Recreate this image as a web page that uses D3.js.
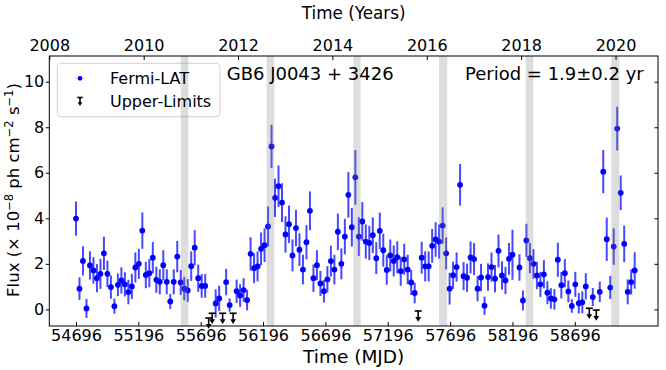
<!DOCTYPE html>
<html><head><meta charset="utf-8">
<script src="https://cdn.jsdelivr.net/npm/d3@7"></script>
<style>body{margin:0;background:#fff}svg{display:block}text{font-family:"DejaVu Sans",sans-serif}</style>
</head><body><svg id="c" width="666" height="370"></svg>
<script>
// ---- data ----
const detMJD=[54696,54724,54752,54780,54808,54836,54864,54892,54920,54948,54976,55004,55032,55060,55088,55116,55144,55172,55200,55228,55256,55284,55312,55340,55368,55396,55424,55452,55480,55508,55536,55564,55592,55620,55648,55676,55704,55732,
55816,55844,55900,55928,55984,56012,56040,56068,56096,56124,56152,56180,56208,56236,56264,56292,56320,56348,56376,56404,56432,56460,56488,56516,56544,56572,56600,56628,56656,56684,56712,56740,56768,56796,56824,56852,56880,56908,56936,56964,56992,57020,57048,57076,57104,57132,57160,57188,57216,57244,57272,57300,57328,57356,57384,57412,
57468,57496,57524,57552,57580,57608,57636,57664,57692,57720,57748,57776,57804,57832,57860,57888,57916,57944,57972,58000,58028,58056,58084,58112,58140,58168,58196,
58252,58280,58308,58336,58364,58392,58420,58448,58476,58504,58532,58560,58588,58616,58644,58672,58700,58728,58756,58784,58840,58896,58924,58952,58980,59008,59036,59064,59092,59120,59148,59176];
const detFlux=[3.99,0.91,2.13,0.04,1.93,1.71,1.37,1.56,2.46,1.56,0.98,0.14,1.08,1.27,1.10,0.76,1.01,1.84,2.00,3.46,1.51,1.59,2.27,1.30,1.21,1.94,1.21,0.35,1.21,2.32,1.18,0.91,0.83,1.90,2.71,1.37,1.03,1.03,
0.26,0.48,1.20,0.19,0.80,0.61,0.85,0.41,2.44,1.81,1.89,2.66,2.82,3.64,7.16,4.90,5.41,4.69,3.29,3.74,2.37,3.57,2.62,1.75,2.95,4.33,1.37,1.94,1.14,0.80,1.32,2.12,1.75,3.41,2.00,3.20,5.03,3.61,5.80,3.20,3.86,2.98,2.92,3.26,2.25,3.45,2.60,1.73,2.37,2.13,2.29,1.68,2.20,1.75,1.18,0.72,
2.27,1.89,1.89,2.79,3.07,2.98,3.68,2.46,0.91,1.50,1.86,5.47,1.46,1.39,2.28,2.21,0.91,1.40,0.16,1.42,1.86,1.35,2.57,1.49,1.27,2.22,2.40,
1.84,0.39,3.03,2.25,2.00,1.49,1.10,1.54,0.73,0.48,0.44,2.18,1.06,1.59,0.79,0.15,1.10,0.27,0.31,1.01,0.54,0.77,6.05,3.08,0.96,2.76,7.94,5.12,2.88,0.77,1.20,1.71];
const detErr=[0.75,0.50,0.64,0.42,0.62,0.58,0.62,0.66,0.73,0.58,0.51,0.33,0.50,0.58,0.53,0.54,0.55,0.66,0.66,0.80,0.58,0.62,0.69,0.57,0.55,0.66,0.55,0.33,0.55,0.69,0.55,0.51,0.50,0.65,0.77,0.60,0.52,0.52,
0.62,0.56,0.58,0.29,0.51,0.50,0.52,0.45,0.73,0.66,0.66,0.72,0.74,0.88,0.95,0.84,0.91,0.85,0.80,0.82,0.70,0.80,0.72,0.65,0.75,0.85,0.60,0.66,0.55,0.50,0.58,0.68,0.65,0.80,0.68,0.78,1.00,0.85,1.20,0.85,0.85,0.75,0.75,0.78,0.70,0.80,0.72,0.65,0.70,0.68,0.70,0.64,0.68,0.65,0.55,0.45,
0.70,0.66,0.66,0.74,0.76,0.75,0.80,0.70,0.70,0.60,0.64,0.91,0.62,0.62,0.70,0.70,0.55,0.60,0.40,0.60,0.64,0.60,0.72,0.62,0.60,0.70,1.10,
0.58,0.44,0.73,0.66,0.65,0.60,0.55,0.62,0.50,0.45,0.45,0.75,0.58,0.62,0.48,0.30,0.55,0.45,0.48,0.58,0.40,0.45,0.95,0.95,0.50,0.80,0.96,0.76,0.80,0.55,0.55,0.80];
const ulMJD=[55760,55788,55872,55956,57440,58812,58868];
const ulFlux=[-0.38,-0.17,-0.17,-0.17,-0.07,0.05,-0.03];
const bandStart=[55536,56225,56920,57607,58302,58989];
const bandEnd=[55597,56286,56979,57673,58363,59053];
const mjdTicks=[54696,55196,55696,56196,56696,57196,57696,58196,58696];
const yearTicks=[2008,2010,2012,2014,2016,2018,2020];
const fluxTicks=[0,2,4,6,8,10];

// ---- layout ----
const L=49.3,R=658,T=56,B=326;
const x=d3.scaleLinear().domain([54482,59363]).range([L,R]);
const y=d3.scaleLinear().domain([-0.73,11.13]).range([B,T]);
const xY=d3.scaleLinear().domain([2008,2020.9]).range([L,R]);
const svg=d3.select('#c');
const FF='"DejaVu Sans",sans-serif';

// data: error bars + points
const det=detMJD.map((m,i)=>({m,f:detFlux[i],e:detErr[i]}));
const gD=svg.append('g');
gD.selectAll('line.eb').data(det).join('line').attr('class','eb')
  .attr('x1',d=>x(d.m)).attr('x2',d=>x(d.m))
  .attr('y1',d=>y(d.f-d.e)).attr('y2',d=>y(d.f+d.e))
  .attr('stroke','#0000ff').attr('stroke-opacity',0.72).attr('stroke-width',2);
gD.selectAll('circle').data(det).join('circle')
  .attr('cx',d=>x(d.m)).attr('cy',d=>y(d.f)).attr('r',2.9).attr('fill','#0000ff');

// upper limits
function ulMarker(g,s){
  g.append('line').attr('x1',-3.5*s).attr('x2',3.5*s).attr('y1',0).attr('y2',0).attr('stroke','#000').attr('stroke-width',1.6);
  g.append('line').attr('x1',0).attr('x2',0).attr('y1',0).attr('y2',7*s).attr('stroke','#000').attr('stroke-width',1.6);
  g.append('path').attr('d',`M${-2.9*s},${6*s}L${2.9*s},${6*s}L0,${10.8*s}Z`).attr('fill','#000');
}
ulMJD.forEach((m,i)=>{
  const g=svg.append('g').attr('transform',`translate(${x(m)},${y(ulFlux[i])})`);
  ulMarker(g,1);
});

// legend frame
svg.append('rect').attr('x',57.3).attr('y',63.3).attr('width',162.7).attr('height',53.4).attr('rx',4)
  .attr('fill','#fff').attr('fill-opacity',0.8).attr('stroke','#d0d0d0').attr('stroke-width',1);

// shaded bands
svg.append('g').selectAll('rect').data(bandStart.map((s,i)=>[s,bandEnd[i]])).join('rect')
  .attr('x',d=>x(d[0])).attr('width',d=>x(d[1])-x(d[0])).attr('y',T).attr('height',B-T)
  .attr('fill','#808080').attr('fill-opacity',0.27);

// legend contents
svg.append('circle').attr('cx',80).attr('cy',78.3).attr('r',2.4).attr('fill','#0000ff');
ulMarker(svg.append('g').attr('transform','translate(80,97.5)'),0.78);
svg.append('text').attr('x',110).attr('y',83.5).attr('font-size',16).text('Fermi-LAT');
svg.append('text').attr('x',110).attr('y',106.5).attr('font-size',16).text('Upper-Limits');

// annotations
svg.append('text').attr('x',226.7).attr('y',80).attr('font-size',18).text('GB6 J0043 + 3426');
svg.append('text').attr('x',465).attr('y',80).attr('font-size',18).text('Period = 1.9\u00b10.2 yr');

// axes
function style(g){g.select('.domain').remove();g.selectAll('text').attr('font-size',16).attr('font-family',FF).attr('fill','#000');g.selectAll('line').attr('stroke','#000').attr('stroke-width',1);}
svg.append('g').attr('transform',`translate(0,${B})`)
  .call(d3.axisBottom(x).tickValues(mjdTicks).tickFormat(d3.format('d')).tickSizeInner(-4).tickSizeOuter(0).tickPadding(3.5)).call(style);
svg.append('g').attr('transform',`translate(${L},0)`)
  .call(d3.axisLeft(y).tickValues(fluxTicks).tickFormat(d3.format('d')).tickSizeInner(3.5).tickSizeOuter(0).tickPadding(1.5)).call(style);
svg.append('g').attr('transform',`translate(${R},0)`)
  .call(d3.axisRight(y).tickValues(fluxTicks).tickFormat('').tickSizeInner(-3.5).tickSizeOuter(0)).call(style);
svg.append('g').attr('transform',`translate(0,${T})`)
  .call(d3.axisTop(xY).tickValues(yearTicks).tickFormat(d3.format('d')).tickSizeInner(-4).tickSizeOuter(0).tickPadding(5)).call(style);
svg.append('rect').attr('x',L).attr('y',T).attr('width',R-L).attr('height',B-T).attr('fill','none').attr('stroke','#000').attr('stroke-width',1);

// axis labels
svg.append('text').attr('x',(L+R)/2).attr('y',363).attr('text-anchor','middle').attr('font-size',18.5).text('Time (MJD)');
svg.append('text').attr('x',(L+R)/2).attr('y',19).attr('text-anchor','middle').attr('font-size',16.8).text('Time (Years)');
const yl=svg.append('text').attr('transform','translate(19,190) rotate(-90)').attr('text-anchor','middle').attr('font-size',16.5);
yl.append('tspan').text('Flux (\u00d7 10');
yl.append('tspan').attr('dy',-6).attr('font-size',11.5).text('\u22128');
yl.append('tspan').attr('dy',6).text(' ph cm');
yl.append('tspan').attr('dy',-6).attr('font-size',11.5).text('\u22122');
yl.append('tspan').attr('dy',6).text(' s');
yl.append('tspan').attr('dy',-6).attr('font-size',11.5).text('\u22121');
yl.append('tspan').attr('dy',6).text(')');
</script></body></html>
